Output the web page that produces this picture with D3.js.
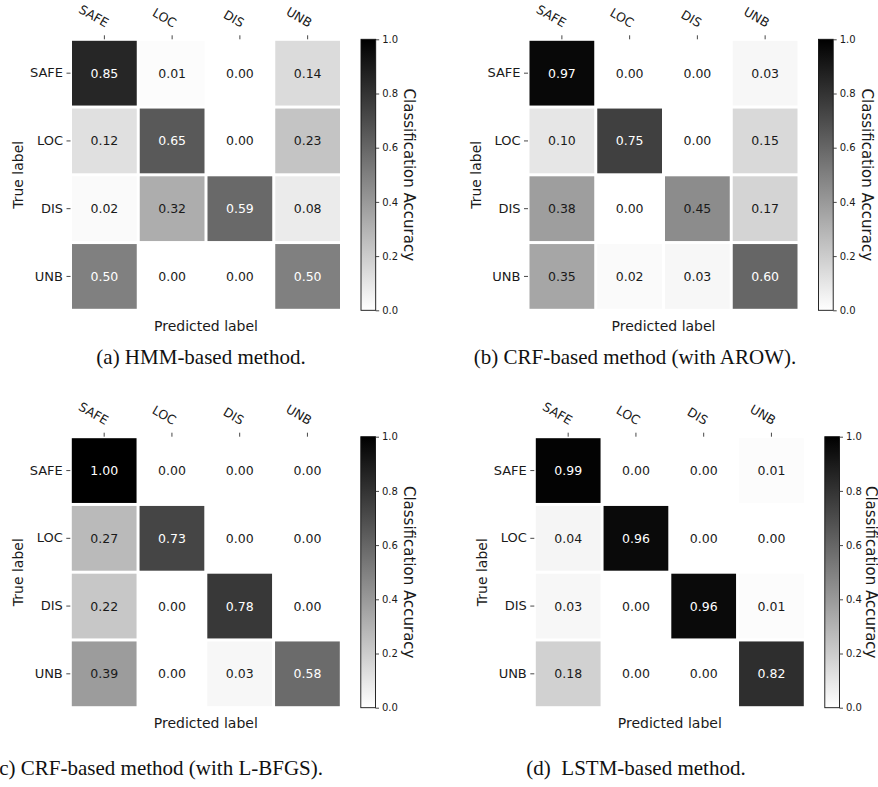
<!DOCTYPE html>
<html>
<head>
<meta charset="utf-8">
<script src="https://cdn.jsdelivr.net/npm/d3@7"></script>
<style>
  html, body { margin: 0; padding: 0; background: #ffffff; }
  svg { display: block; }
  text { font-family: "DejaVu Sans", sans-serif; fill: #1a1a1a; }
  .caption { font-family: "Liberation Serif", "DejaVu Serif", serif; fill: #111; }
</style>
</head>
<body>
<svg id="chart" width="878" height="787"></svg>
<script>
// ---------------- data ----------------
const categories = ["SAFE", "LOC", "DIS", "UNB"];

const hmmValues = [
  [0.85, 0.01, 0.00, 0.14],
  [0.12, 0.65, 0.00, 0.23],
  [0.02, 0.32, 0.59, 0.08],
  [0.50, 0.00, 0.00, 0.50]
];
const crfArowValues = [
  [0.97, 0.00, 0.00, 0.03],
  [0.10, 0.75, 0.00, 0.15],
  [0.38, 0.00, 0.45, 0.17],
  [0.35, 0.02, 0.03, 0.60]
];
const crfLbfgsValues = [
  [1.00, 0.00, 0.00, 0.00],
  [0.27, 0.73, 0.00, 0.00],
  [0.22, 0.00, 0.78, 0.00],
  [0.39, 0.00, 0.03, 0.58]
];
const lstmValues = [
  [0.99, 0.00, 0.00, 0.01],
  [0.04, 0.96, 0.00, 0.00],
  [0.03, 0.00, 0.96, 0.01],
  [0.18, 0.00, 0.00, 0.82]
];

const colorbarTicks = [0.0, 0.2, 0.4, 0.6, 0.8, 1.0];
const captions = [
  "(a) HMM-based method.",
  "(b) CRF-based method (with AROW).",
  "(c) CRF-based method (with L-BFGS).",
  "(d)\u00a0\u00a0LSTM-based method."
];
const xAxisTitle = "Predicted label";
const yAxisTitle = "True label";
const colorbarTitle = "Classification Accuracy";

// ---------------- layout ----------------
const S = 271;          // heatmap size
const gap = 3;          // white gap between cells
const panels = [
  { values: hmmValues,      left: 70.5,  top: 39.3,  cbTitleDx: 48, caption: captions[0], capX: 201, capY: 364, anchor: "middle" },
  { values: crfArowValues,  left: 528.0, top: 39.3,  cbTitleDx: 48, caption: captions[1], capX: 635, capY: 364, anchor: "middle" },
  { values: crfLbfgsValues, left: 70.3,  top: 436.7, cbTitleDx: 48, caption: captions[2], capX: 323, capY: 775, anchor: "end" },
  { values: lstmValues,     left: 534.3, top: 436.7, cbTitleDx: 46.5, caption: captions[3], capX: 636, capY: 775, anchor: "middle" }
];

const color = d3.scaleLinear().domain([0, 1]).range(["#ffffff", "#000000"]);

const svg = d3.select("#chart");

// gradient for colorbar
const defs = svg.append("defs");
const grad = defs.append("linearGradient")
  .attr("id", "cbgrad").attr("x1", 0).attr("y1", 1).attr("x2", 0).attr("y2", 0);
d3.range(0, 1.0001, 0.1).forEach(t => {
  grad.append("stop").attr("offset", t).attr("stop-color", color(t));
});

panels.forEach(p => {
  const g = svg.append("g");
  const x = d3.scaleBand().domain(categories).range([p.left, p.left + S]);
  const y = d3.scaleBand().domain(categories).range([p.top, p.top + S]);
  const vmax = d3.max(p.values.flat());

  const cells = [];
  p.values.forEach((row, i) => row.forEach((v, j) => cells.push({ r: categories[i], c: categories[j], v })));

  g.selectAll("rect.cell").data(cells).enter().append("rect")
    .attr("class", "cell")
    .attr("x", d => x(d.c) + gap / 2)
    .attr("y", d => y(d.r) + gap / 2)
    .attr("width", x.bandwidth() - gap)
    .attr("height", y.bandwidth() - gap)
    .attr("fill", d => color(d.v));

  g.selectAll("text.annot").data(cells).enter().append("text")
    .attr("class", "annot")
    .attr("x", d => x(d.c) + x.bandwidth() / 2)
    .attr("y", d => y(d.r) + y.bandwidth() / 2)
    .attr("text-anchor", "middle")
    .attr("dominant-baseline", "central")
    .style("font-size", "12.5px")
    .style("fill", d => d.v > vmax / 2 ? "#ffffff" : "#1a1a1a")
    .text(d => d.v.toFixed(2));

  // top axis (predicted)
  const xAxis = g.append("g")
    .attr("transform", `translate(0,${p.top})`)
    .call(d3.axisTop(x).tickSize(4).tickSizeOuter(0));
  xAxis.select(".domain").remove();
  xAxis.selectAll(".tick line").attr("stroke", "#333").attr("stroke-width", 0.9);
  xAxis.selectAll(".tick text")
    .attr("x", 0).attr("y", 0).attr("dy", 0)
    .attr("text-anchor", "end")
    .attr("transform", "translate(1,-11.5) rotate(30)")
    .style("font-size", "12.5px")
    .style("font-family", "DejaVu Sans")
    .attr("fill", "#1a1a1a");

  // left axis (true)
  const yAxis = g.append("g")
    .attr("transform", `translate(${p.left},0)`)
    .call(d3.axisLeft(y).tickSize(4).tickPadding(3.5).tickSizeOuter(0));
  yAxis.select(".domain").remove();
  yAxis.selectAll(".tick line").attr("stroke", "#333").attr("stroke-width", 0.9);
  yAxis.selectAll(".tick text")
    .style("font-size", "13px")
    .style("font-family", "DejaVu Sans")
    .attr("fill", "#1a1a1a");

  // axis titles
  g.append("text")
    .attr("x", p.left + S / 2).attr("y", p.top + S + 20.5)
    .attr("text-anchor", "middle")
    .style("font-size", "14px")
    .text(xAxisTitle);
  g.append("text")
    .attr("transform", `translate(${p.left - 52.5},${p.top + S / 2}) rotate(-90)`)
    .attr("text-anchor", "middle")
    .attr("dominant-baseline", "central")
    .style("font-size", "14px")
    .text(yAxisTitle);

  // colorbar
  const cbLeft = p.left + S + 19.5;
  const cbW = 14.7;
  const cbScale = d3.scaleLinear().domain([0, 1]).range([p.top + S, p.top]);
  g.append("rect")
    .attr("x", cbLeft).attr("y", p.top)
    .attr("width", cbW).attr("height", S)
    .attr("fill", "url(#cbgrad)")
    .attr("stroke", "#111").attr("stroke-width", 0.9);
  const cbAxis = g.append("g")
    .attr("transform", `translate(${cbLeft + cbW},0)`)
    .call(d3.axisRight(cbScale).tickValues(colorbarTicks).tickFormat(d3.format(".1f")).tickSize(3.5).tickPadding(3).tickSizeOuter(0));
  cbAxis.select(".domain").remove();
  cbAxis.selectAll(".tick line").attr("stroke", "#333").attr("stroke-width", 0.9);
  cbAxis.selectAll(".tick text")
    .style("font-size", "10px")
    .style("font-family", "DejaVu Sans")
    .attr("fill", "#1a1a1a");
  g.append("text")
    .attr("transform", `translate(${cbLeft + p.cbTitleDx},${p.top + S / 2}) rotate(90)`)
    .attr("text-anchor", "middle")
    .attr("dominant-baseline", "central")
    .style("font-size", "15px")
    .text(colorbarTitle);

  // caption
  svg.append("text")
    .attr("class", "caption")
    .attr("x", p.capX).attr("y", p.capY)
    .attr("text-anchor", p.anchor)
    .style("font-size", "21px")
    .text(p.caption);
});
</script>
</body>
</html>
